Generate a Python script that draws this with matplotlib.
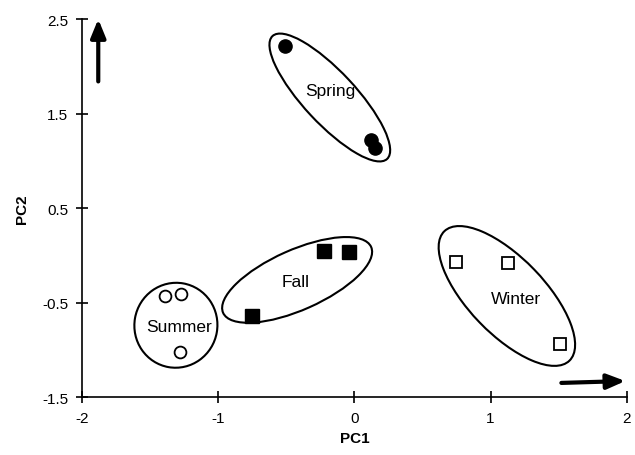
import matplotlib
matplotlib.use("Agg")
import matplotlib.pyplot as plt
from matplotlib.patches import Ellipse
from matplotlib.transforms import ScaledTranslation

plt.rcParams['font.family'] = ['Liberation Sans', 'DejaVu Sans']

# PCA scores per season
spring_x = [-0.51, 0.12, 0.15]
spring_y = [2.22, 1.22, 1.14]
fall_x = [-0.75, -0.22, -0.04]
fall_y = [-0.64, 0.05, 0.03]
summer_x = [-1.39, -1.27, -1.28]
summer_y = [-0.43, -0.41, -1.02]
winter_x = [0.75, 1.13, 1.51]
winter_y = [-0.07, -0.08, -0.94]

# group labels: name, label x, label y
groups = ['Spring', 'Fall', 'Summer', 'Winter']
label_x = [-0.18, -0.43, -1.29, 1.19]
label_y = [1.74, -0.28, -0.75, -0.46]
# ellipse centre (data) and width/height/angle (pixels, degrees)
ell_cx = [-0.18, -0.42, -1.31, 1.12]
ell_cy = [1.67, -0.26, -0.74, -0.43]
ell_w = [168, 162, 85, 180]
ell_h = [52, 60, 83, 76]
ell_ang = [-47, 24, 80, -46]

fig = plt.figure(figsize=(6.35, 4.56), dpi=100)
ax = fig.add_axes([0.129, 0.127, 0.858, 0.829])

ax.plot(spring_x, spring_y, 'o', ms=9.5, mfc='black', mec='black', ls='none')
ax.plot(fall_x, fall_y, 's', ms=9.5, mfc='black', mec='black', ls='none')
ax.plot(summer_x, summer_y, 'o', ms=8.5, mfc='white', mec='black', mew=1.3, ls='none')
ax.plot(winter_x, winter_y, 's', ms=9, mfc='white', mec='black', mew=1.3, ls='none')

for i, g in enumerate(groups):
    tr = fig.dpi_scale_trans + ScaledTranslation(ell_cx[i], ell_cy[i], ax.transData)
    e = Ellipse((0, 0), ell_w[i] / 100, ell_h[i] / 100, angle=ell_ang[i],
                transform=tr, fill=False, ec='black', lw=1.5)
    ax.add_patch(e)
    ax.text(label_x[i], label_y[i], g, ha='center', va='center', fontsize=12.5)

# direction arrows
ax.annotate('', xy=(-1.88, 2.5), xytext=(-1.88, 1.84),
            arrowprops=dict(arrowstyle='-|>,head_width=0.45,head_length=1.1',
                            lw=3, color='black', shrinkA=0, shrinkB=0))
ax.annotate('', xy=(1.99, -1.33), xytext=(1.52, -1.35),
            arrowprops=dict(arrowstyle='-|>,head_width=0.45,head_length=1.1',
                            lw=3, color='black', shrinkA=0, shrinkB=0))

ax.set_xlim(-2, 2)
ax.set_ylim(-1.5, 2.5)
ax.set_xticks([-2, -1, 0, 1, 2])
ax.set_yticks([-1.5, -0.5, 0.5, 1.5, 2.5])
ax.set_yticklabels(['-1.5', '-0.5', '0.5', '1.5', '2.5'])
ax.set_xticklabels(['-2', '-1', '0', '1', '2'])
ax.spines['top'].set_visible(False)
ax.spines['right'].set_visible(False)
ax.spines['left'].set_linewidth(1.2)
ax.spines['bottom'].set_linewidth(1.2)
ax.tick_params(direction='inout', length=8, width=1.2, labelsize=11, pad=6)
ax.set_xlabel('PC1', fontweight='bold', fontsize=11, labelpad=4)
ax.set_ylabel('PC2', fontweight='bold', fontsize=11, labelpad=9)

fig.savefig('out.png', dpi=100)
